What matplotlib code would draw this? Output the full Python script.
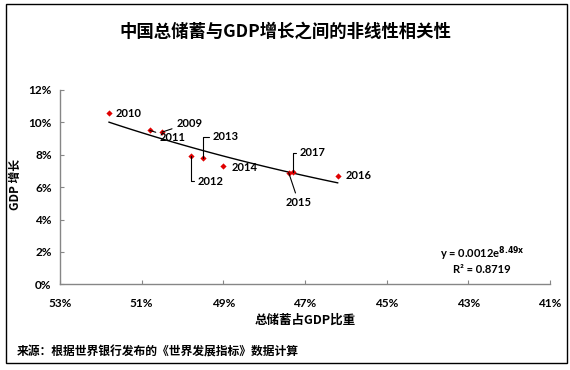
import numpy as np
import matplotlib
matplotlib.use('Agg')
import matplotlib.pyplot as plt
from matplotlib.patches import Rectangle
from matplotlib.ticker import FuncFormatter

plt.rcParams['font.family'] = ['Lato', 'Noto Sans CJK SC', 'DejaVu Sans']

# data
years = ['2009', '2010', '2011', '2012', '2013', '2014', '2015', '2016', '2017']
savings = [0.505, 0.518, 0.508, 0.498, 0.495, 0.490, 0.474, 0.462, 0.473]
growth = [0.094, 0.106, 0.095, 0.079, 0.078, 0.073, 0.069, 0.067, 0.0695]
xticks = [0.53, 0.51, 0.49, 0.47, 0.45, 0.43, 0.41]
yticks = [0, 0.02, 0.04, 0.06, 0.08, 0.10, 0.12]

# label offsets in pixels (dx, dy), alignment, and whether a leader line is drawn
label_pos = {
    '2009': (14, 9, 'left', True),
    '2010': (7, -1, 'left', False),
    '2011': (10, -7, 'left', True),
    '2012': (7, -25, 'left', True),
    '2013': (10, 21, 'left', True),
    '2014': (8, -1, 'left', False),
    '2015': (10, -30, 'center', True),
    '2016': (8, 0, 'left', False),
    '2017': (7, 19, 'left', True),
}

fig = plt.figure(figsize=(5.7, 3.7), dpi=100)
ax = fig.add_axes([0.1053, 0.2316, 0.8596, 0.5252])

x = np.array(savings)
y = np.array(growth)

# exponential trendline, fitted like excel does (ln y vs x)
b, lna = np.polyfit(x, np.log(y), 1)
xt = np.linspace(x.max(), x.min(), 50)
ax.plot(xt, np.exp(lna) * np.exp(b * xt), color='black', lw=1.0, zorder=2)

ax.scatter(x, y, marker='D', s=10, color='#e00000', zorder=3, linewidths=0)

for yr, xi, yi in zip(years, savings, growth):
    dx, dy, ha, lead = label_pos[yr]
    if lead:
        if yr in ('2013', '2012', '2017'):
            cs = 'angle,angleA=0,angleB=90,rad=0'
        else:
            cs = 'arc3,rad=0'
        ax.annotate(yr, (xi, yi), xytext=(dx, dy), textcoords='offset pixels',
                    ha=ha, va='center', fontsize=8, fontweight='bold',
                    arrowprops=dict(arrowstyle='-', color='black', lw=0.8,
                                    connectionstyle=cs, shrinkA=1, shrinkB=0))
    else:
        ax.annotate(yr, (xi, yi), xytext=(dx, dy), textcoords='offset pixels',
                    ha=ha, va='center', fontsize=8, fontweight='bold')

ax.set_xlim(0.53, 0.41)
ax.set_ylim(0, 0.12)
ax.set_xticks(xticks)
ax.set_yticks(yticks)
pct = FuncFormatter(lambda v, p: '%d%%' % round(v * 100))
ax.xaxis.set_major_formatter(pct)
ax.yaxis.set_major_formatter(pct)

for s in ['top', 'right']:
    ax.spines[s].set_visible(False)
for s in ['left', 'bottom']:
    ax.spines[s].set_color('#868686')
    ax.spines[s].set_linewidth(1)
ax.tick_params(axis='both', direction='in', length=3, color='#868686',
               labelsize=8.5)
ax.tick_params(axis='x', pad=10)
ax.tick_params(axis='y', pad=6)
for lb in ax.get_xticklabels() + ax.get_yticklabels():
    lb.set_fontweight('bold')

ax.text(0.861, 0.155, 'y = 0.0012e$^{\\mathbf{8.49x}}$',
        transform=ax.transAxes, ha='center', va='center', fontsize=8,
        fontweight='bold')
ax.text(0.861, 0.078, 'R² = 0.8719', transform=ax.transAxes, ha='center',
        va='center', fontsize=8, fontweight='bold')

fig.text(0.5, 0.915, '中国总储蓄与GDP增长之间的非线性相关性', ha='center',
         va='center', fontsize=12.5, fontweight='bold',
         family=['Noto Sans CJK SC'])
fig.text(0.535, 0.135, '总储蓄占GDP比重', ha='center', va='center',
         fontsize=9, fontweight='bold', family=['Noto Sans CJK SC'])
fig.text(0.027, 0.5, 'GDP 增长', ha='center', va='center', rotation=90,
         fontsize=8.5, fontweight='bold', family=['Noto Sans CJK SC'])
fig.text(0.03, 0.048, '来源：根据世界银行发布的《世界发展指标》数据计算',
         ha='left', va='center', fontsize=8.5, fontweight='bold',
         family=['Noto Sans CJK SC'])

fig.patches.append(Rectangle((6 / 570, 1 - 363 / 370), 561 / 570, 359 / 370,
                             transform=fig.transFigure, fill=False,
                             edgecolor='black', lw=1))

fig.savefig('out.png', dpi=100)
